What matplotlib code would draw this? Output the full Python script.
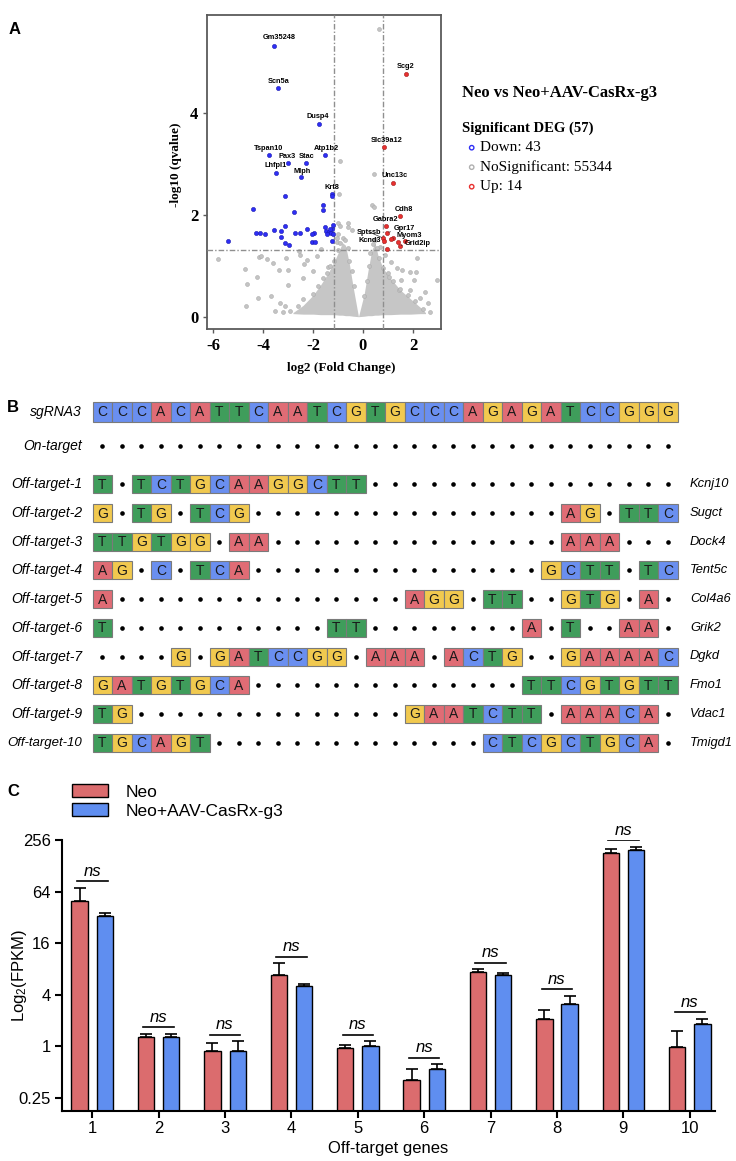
import matplotlib
matplotlib.use("Agg")
import matplotlib.pyplot as plt
from matplotlib.patches import Rectangle
from matplotlib.ticker import NullLocator
import numpy as np

plt.rcParams['axes.unicode_minus'] = False
plt.rcParams['mathtext.default'] = 'regular'
SANS = 'Liberation Sans'
SERIF = 'Liberation Serif'

# ---------------- Panel A data (volcano) ----------------
down_x = [-3.55, -3.41, -1.76, -3.76, -3.01, -2.29, -1.53, -3.49, -2.49, -1.25, -1.22, -3.12, -1.59, -1.61,
          -4.40, -2.76, -1.20, -1.51, -1.24, -3.11, -2.24, -3.56, -3.27, -4.28, -4.11, -3.91, -2.73, -2.52,
          -1.96, -1.49, -1.37, -1.29, -1.21, -3.29, -3.11, -2.97, -5.41, -2.03, -1.92, -1.24, -1.45, -2.05, -1.33]
down_y = [5.31, 4.48, 3.78, 3.16, 3.01, 3.01, 3.16, 2.82, 2.73, 2.40, 2.36, 2.37, 2.19, 2.09,
          2.12, 2.06, 1.80, 1.75, 1.71, 1.78, 1.72, 1.70, 1.68, 1.65, 1.65, 1.63, 1.64, 1.65,
          1.65, 1.68, 1.66, 1.64, 1.62, 1.56, 1.44, 1.40, 1.48, 1.46, 1.46, 1.48, 1.62, 1.62, 1.72]
up_x = [1.71, 0.84, 1.21, 1.48, 0.92, 0.97, 0.81, 0.85, 1.21, 1.11, 1.67, 1.41, 1.47, 0.95]
up_y = [4.75, 3.33, 2.63, 1.97, 1.78, 1.65, 1.54, 1.49, 1.54, 1.52, 1.49, 1.47, 1.39, 1.32]
ns_x = [0.64, -0.93, 0.45, -0.96, 0.38, 0.45, -5.81, -4.72, -4.65, -4.25, -4.21, -4.68, -4.15, -4.08,
        -3.83, -3.69, -3.61, -3.35, -3.32, -3.12, -2.99, -2.99, -3.08, -2.57, -2.52, -2.36, -2.39, -2.23,
        -1.99, -1.85, -1.68, -1.39, -0.99, -0.92, -0.59, -1.05, 0.69, 0.87, 1.11, 1.37, 1.57, 1.89, 2.12,
        2.18, 2.49, 2.95, 2.03, 1.51, 1.89, 2.28, 2.61, 1.45, 1.05,
        -2.9, -2.6, -2.4, -2.0, -1.8, -1.6, -1.45, -1.3, -1.15, -1.0, -0.9, -0.8, -0.7, -0.6, -0.55,
        -0.45, -0.35, 0.05, 0.15, 0.25, 0.3, 0.4, 0.5, 0.55, 0.65, 0.8, 1.0, 1.2, 1.5, 1.8, 2.1, 2.4,
        2.7, -3.2, -3.5, -0.45, -0.6, -1.05, -1.0]
ns_y = [5.64, 3.05, 2.80, 2.40, 2.19, 2.16, 1.14, 0.93, 0.64, 0.77, 0.36, 0.20, 1.17, 1.19,
        1.13, 0.40, 1.05, 0.92, 0.26, 0.21, 0.92, 0.62, 1.16, 1.29, 1.21, 1.03, 0.75, 1.12,
        0.90, 1.19, 1.32, 0.97, 1.83, 1.78, 1.84, 1.47, 1.37, 1.21, 1.08, 0.95, 0.91, 0.88, 0.88,
        1.16, 0.49, 0.72, 0.72, 0.72, 0.52, 0.36, 0.26, 0.52, 0.78,
        0.12, 0.20, 0.35, 0.45, 0.60, 0.75, 0.85, 1.00, 1.10, 1.30, 1.45, 1.55, 1.50, 1.35, 1.10,
        0.90, 0.60, 0.40, 0.70, 1.00, 1.25, 1.42, 1.50, 1.35, 1.15, 0.95, 0.85, 0.70, 0.55, 0.42, 0.30, 0.15,
        0.10, 0.10, 0.12, 1.70, 1.75, 1.55, 1.62]
core_x = [-2.8, -2.4, -2.0, -1.7, -1.4, -1.15, -0.95, -0.82, -0.7, -0.55, -0.4, -0.18, 0.05, 0.2, 0.35,
          0.48, 0.6, 0.8, 1.1, 1.5, 1.9, 2.3, 2.5]
core_top = [0.08, 0.22, 0.42, 0.62, 0.85, 1.08, 1.30, 1.45, 1.40, 1.05, 0.60, 0.00, 0.45, 0.90, 1.30,
            1.45, 1.20, 0.95, 0.75, 0.52, 0.35, 0.18, 0.08]
core_bot = [0.06, 0.05, 0.05, 0.04, 0.04, 0.04, 0.03, 0.03, 0.02, 0.02, 0.01, 0.00, 0.01, 0.02, 0.02,
            0.03, 0.03, 0.04, 0.04, 0.05, 0.05, 0.06, 0.06]
fc_cut = [-1.16, 0.80]
q_cut = 1.30
lab_names = ['Gm35248', 'Scn5a', 'Dusp4', 'Tspan10', 'Pax3', 'Stac', 'Atp1b2', 'Lhfpl1', 'Mlph', 'Krt8',
             'Scg2', 'Slc39a12', 'Unc13c', 'Cdh8', 'Gabra2', 'Gpr17', 'Sptssb', 'Myom3', 'Kcnd3', 'Grid2ip']
lab_x = [-3.35, -3.39, -1.79, -3.79, -3.05, -2.25, -1.48, -3.49, -2.45, -1.25,
         1.71, 0.95, 1.28, 1.64, 0.91, 1.64, 0.25, 1.85, 0.28, 2.19]
lab_y = [5.47, 4.62, 3.92, 3.29, 3.14, 3.14, 3.29, 2.96, 2.85, 2.54,
         4.90, 3.46, 2.76, 2.10, 1.90, 1.73, 1.66, 1.59, 1.50, 1.43]
leader_names = ['Gpr17', 'Sptssb', 'Myom3', 'Grid2ip']
leader_x = [0.97, 0.81, 1.21, 1.47]
leader_y = [1.65, 1.54, 1.54, 1.39]

# ---------------- Panel B data (sequences) ----------------
sgrna_name = 'sgRNA3'
sgrna_seq = 'CCCACATTCAATCGTGCCCAGAGATCCGGG'
ontarget_name = 'On-target'
ontarget_seq = '..............................'
offtarget_names = ['Off-target-1', 'Off-target-2', 'Off-target-3', 'Off-target-4', 'Off-target-5',
                   'Off-target-6', 'Off-target-7', 'Off-target-8', 'Off-target-9', 'Off-target-10']
offtarget_seqs = ['T.TCTGCAAGGCTT................',
                  'G.TG.TCG................AG.TTC',
                  'TTGTGG.AA...............AAA...',
                  'AG.C.TCA...............GCTT.TC',
                  'A...............AGG.TT..GTG.A.',
                  'T...........TT........A.T..AA.',
                  '....G.GATCCGG.AAA.ACTG..GAAAAC',
                  'GATGTGCA..............TTCGTGTT',
                  'TG..............GAATCTT.AAACA.',
                  'TGCAGT..............CTCGCTGCA.']
offtarget_genes = ['Kcnj10', 'Sugct', 'Dock4', 'Tent5c', 'Col4a6', 'Grik2', 'Dgkd', 'Fmo1', 'Vdac1', 'Tmigd1']
base_colors = {'A': '#E06C75', 'C': '#6A8FF0', 'G': '#F1C94F', 'T': '#3F9D5B'}

# ---------------- Panel C data (FPKM) ----------------
genes_c = ['1', '2', '3', '4', '5', '6', '7', '8', '9', '10']
neo_mean = [50, 1.29, 0.88, 6.8, 0.96, 0.40, 7.4, 2.1, 181, 0.98]
neo_sem = [21, 0.11, 0.22, 2.6, 0.09, 0.15, 0.5, 0.56, 21, 0.52]
cas_mean = [33, 1.30, 0.88, 5.1, 1.00, 0.55, 6.8, 3.1, 197, 1.83]
cas_sem = [3, 0.10, 0.27, 0.2, 0.15, 0.07, 0.3, 0.8, 17, 0.27]
group_names = ['Neo', 'Neo+AAV-CasRx-g3']
NEO_C = '#DB6C6E'
CAS_C = '#5F8EF0'

# ---------------- figure ----------------
W, H = 736, 1161
fig = plt.figure(figsize=(W / 100, H / 100), dpi=100)


def fax(l, t, r, b):
    return fig.add_axes([l / W, 1 - b / H, (r - l) / W, (b - t) / H])


# ---- Panel A ----
axA = fax(206.7, 14.7, 441, 329.3)
axA.set_xlim(-6.25, 3.12)
axA.set_ylim(-0.247, 5.92)
axA.fill_between(core_x, core_bot, core_top, color='#C6C6C6', lw=0, zorder=1)
axA.scatter(ns_x, ns_y, s=8, color='#C4C4C4', edgecolors='#ABABAB', linewidths=0.4, zorder=2)
dash = (0, (4, 1.5, 1, 1.5))
for v in fc_cut:
    axA.axvline(v, color='#8F8F8F', lw=1.0, ls=dash, zorder=3)
axA.axhline(q_cut, color='#8F8F8F', lw=1.0, ls=dash, zorder=3)
axA.scatter(down_x, down_y, s=9, color='#2E2EF5', edgecolors='#1A1AB0', linewidths=0.4, zorder=4)
axA.scatter(up_x, up_y, s=9, color='#E8302F', edgecolors='#A01818', linewidths=0.4, zorder=4)
for s in axA.spines.values():
    s.set_color('#5A5A5A')
    s.set_linewidth(1.3)
axA.set_xticks([-6, -4, -2, 0, 2])
axA.set_yticks([0, 2, 4])
axA.tick_params(length=3, width=1, color='#5A5A5A', labelsize=12, pad=3)
for lab in axA.get_xticklabels() + axA.get_yticklabels():
    lab.set_fontfamily(SERIF)
    lab.set_fontweight('bold')
for name, lx, ly in zip(lab_names, lab_x, lab_y):
    if name in leader_names:
        k = leader_names.index(name)
        axA.annotate(name, xy=(leader_x[k], leader_y[k]), xytext=(lx, ly), fontsize=5.3,
                     fontweight='bold', family=SANS, ha='center', va='center', zorder=5,
                     arrowprops=dict(arrowstyle='-', lw=0.5, color='#333333', shrinkA=0, shrinkB=1))
    else:
        axA.text(lx, ly, name, fontsize=5.3, fontweight='bold', family=SANS, ha='center', va='center', zorder=5)

# ---- Panel C ----
axC = fax(61.7, 840, 715, 1111)
axC.set_yscale('log', base=2)
ymin = 0.176
axC.set_ylim(ymin, 256)
n = len(genes_c)
xc = np.arange(1, n + 1)
off, bw = 0.19, 0.245
axC.bar(xc - off, np.array(neo_mean) - ymin, bottom=ymin, width=bw, color=NEO_C, edgecolor='black', lw=1.0,
        label=group_names[0], zorder=2)
axC.bar(xc + off, np.array(cas_mean) - ymin, bottom=ymin, width=bw, color=CAS_C, edgecolor='black', lw=1.0,
        label=group_names[1], zorder=2)
axC.errorbar(xc - off, neo_mean, yerr=[np.zeros(n), neo_sem], fmt='none', ecolor='black', elinewidth=1.2,
             capsize=4.5, capthick=1.2, zorder=3)
axC.errorbar(xc + off, cas_mean, yerr=[np.zeros(n), cas_sem], fmt='none', ecolor='black', elinewidth=1.2,
             capsize=4.5, capthick=1.2, zorder=3)
for i in range(n):
    top = max(neo_mean[i] + neo_sem[i], cas_mean[i] + cas_sem[i])
    ly = top * 2 ** 0.25
    axC.plot([xc[i] - 0.23, xc[i] + 0.23], [ly, ly], color='black', lw=1.2)
    axC.text(xc[i], ly * 2 ** 0.1, 'ns', style='italic', ha='center', va='bottom', fontsize=12, family=SANS)
axC.set_xlim(0.54, 10.38)
axC.set_xticks(xc)
axC.set_xticklabels(genes_c)
axC.set_yticks([0.25, 1, 4, 16, 64, 256])
axC.set_yticklabels(['0.25', '1', '4', '16', '64', '256'])
axC.yaxis.set_minor_locator(NullLocator())
for sp in ['top', 'right']:
    axC.spines[sp].set_visible(False)
for sp in ['left', 'bottom']:
    axC.spines[sp].set_linewidth(1.5)
axC.tick_params(length=5, width=1.5, labelsize=12, pad=3)
axC.tick_params(axis='x', pad=2)
for lab in axC.get_xticklabels() + axC.get_yticklabels():
    lab.set_fontfamily(SANS)
axC.legend(loc='upper left', bbox_to_anchor=(72 / W, 1 - 784 / H), bbox_transform=fig.transFigure,
           frameon=False, prop={'family': SANS, 'size': 12.5}, handlelength=2.1, handleheight=0.8,
           handletextpad=1.0, labelspacing=0.2, borderaxespad=0, borderpad=0)

# ---- overlay (text, panel B) ----
ov = fig.add_axes([0, 0, 1, 1])
ov.set_xlim(0, W)
ov.set_ylim(H, 0)
ov.axis('off')

for lbl, (px, py) in zip(['A', 'B', 'C'], [(15, 30), (13, 407), (13, 792)]):
    ov.text(px, py, lbl, fontsize=12, fontweight='bold', family=SANS, ha='center', va='center')

# panel A titles / legend
ov.text(341, 368, 'log2 (Fold Change)', fontsize=9.5, fontweight='bold', family=SERIF, ha='center', va='center')
ov.text(176, 165, '-log10 (qvalue)', fontsize=9.5, fontweight='bold', family=SERIF, ha='center', va='center',
        rotation=90)
ov.text(462, 93.3, 'Neo vs Neo+AAV-CasRx-g3', fontsize=12, fontweight='bold', family=SERIF, ha='left', va='center')
ov.text(462, 128.3, 'Significant DEG (57)', fontsize=10.5, fontweight='bold', family=SERIF, ha='left', va='center')
leg_items = ['Down: 43', 'NoSignificant: 55344', 'Up: 14']
leg_cols = ['#2E2EF5', '#B0B0B0', '#E8302F']
for k, (txt, col) in enumerate(zip(leg_items, leg_cols)):
    yy = 147.7 + k * 19.5
    ov.scatter([471.7], [yy], s=10, facecolors='none', edgecolors=col, linewidths=1.0)
    ov.text(480, yy, txt, fontsize=11, family=SERIF, ha='left', va='center')

# panel B
x0, cw = 92.7, 19.5


def draw_row(seq, yc, h):
    dx, dy = [], []
    for i, ch in enumerate(seq):
        cx = x0 + (i + 0.5) * cw
        if ch == '.':
            dx.append(cx)
            dy.append(yc)
        else:
            ov.add_patch(Rectangle((x0 + i * cw, yc - h / 2), cw, h, facecolor=base_colors[ch],
                                   edgecolor='#7A7A7A', lw=0.8))
            ov.text(cx, yc + 0.5, ch, ha='center', va='center', fontsize=10, family=SANS, color='#1A1A1A')
    if dx:
        ov.scatter(dx, dy, s=11, color='black', lw=0)


def row_label(name, yc):
    fs = 10 if len(name) <= 12 else 9.5
    ov.text(82, yc, name, ha='right', va='center', fontsize=fs, family=SANS, style='italic')


row_label(sgrna_name, 411.7)
draw_row(sgrna_seq, 411.7, 20)
row_label(ontarget_name, 446.0)
draw_row(ontarget_seq, 446.0, 18)
for k, (nm, seq, gene) in enumerate(zip(offtarget_names, offtarget_seqs, offtarget_genes)):
    yc = 484.3 + k * 28.7
    row_label(nm, yc)
    draw_row(seq, yc, 18)
    ov.text(690, yc, gene, ha='left', va='center', fontsize=9.3, family=SANS, style='italic')

# panel C labels
ov.text(20, 975, 'Log$_2$(FPKM)', fontsize=12, family=SANS, ha='center', va='center', rotation=90)
ov.text(388, 1148, 'Off-target genes', fontsize=12, family=SANS, ha='center', va='center')

fig.savefig('out.png', dpi=100)
